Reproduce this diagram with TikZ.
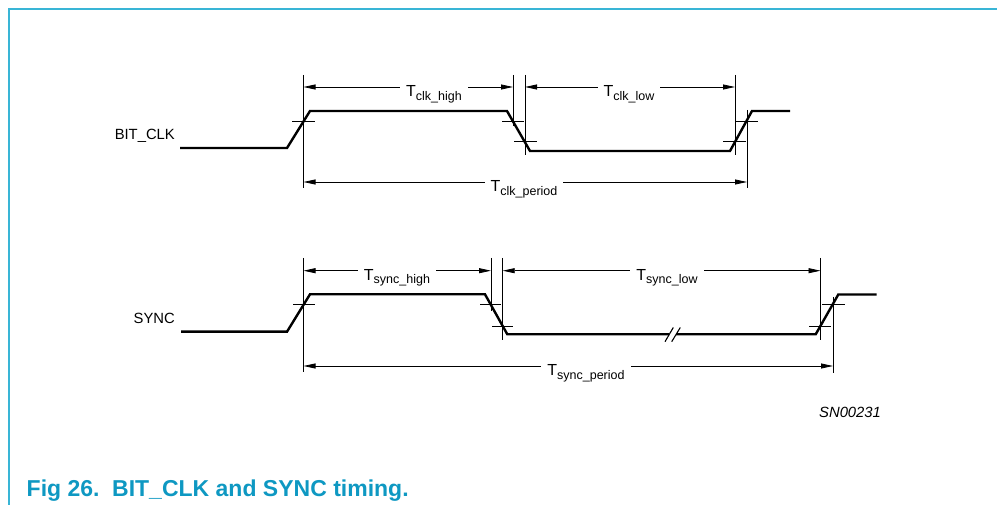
\documentclass[tikz,border=0pt]{standalone}
\usepackage{fontspec}
\setmainfont{Liberation Sans}
\usetikzlibrary{arrows.meta}
\definecolor{framecyan}{RGB}{57,181,214}
\definecolor{captionteal}{RGB}{14,152,194}
\newcommand{\tlab}[1]{T\raisebox{-3.3pt}{\fontsize{12.5}{14}\selectfont #1}}

\begin{document}
\begin{tikzpicture}[x=1pt, y=-1pt,
    sig/.style={line width=2.4pt, line join=miter},
    ext/.style={line width=0.8pt},
    tickline/.style={line width=0.8pt},
    dim/.style={line width=0.8pt, {Triangle[length=12pt,width=5pt]}-{Triangle[length=12pt,width=5pt]}},
    dimlabel/.style={fill=white, inner xsep=6pt, inner ysep=1pt, anchor=base, font=\fontsize{16}{18}\selectfont},
    siglabel/.style={anchor=base east, inner sep=0pt, font=\fontsize{14.8}{17}\selectfont}]
  \useasboundingbox (0,0) rectangle (997,505);
  % frame
  \draw[framecyan, line width=2pt] (8.5,505) -- (8.5,9.5) -- (997,9.5);

  % BIT_CLK
  \node[siglabel] (clkname) at (175,139.3) {BIT\_CLK};
  \draw[sig] (180,148) -- (287,148) -- (310,111) -- (507,111) -- (530,151)
    -- (730,151) -- (752,111) -- (790,111);
  \draw[tickline] (292,121) -- (315,121);
  \draw[tickline] (502,121) -- (524,121);
  \draw[tickline] (514,141.7) -- (537,141.7);
  \draw[tickline] (723,141.7) -- (746,141.7);
  \draw[tickline] (736,121) -- (758,121);
  \draw[ext] (303.5,75) -- (303.5,188);
  \draw[ext] (513,75) -- (513,126);
  \draw[ext] (525,75) -- (525,155);
  \draw[ext] (735,75) -- (735,155);
  \draw[ext] (747,110) -- (747,188);
  \coordinate (hiA) at (303.5,87);
  \coordinate (hiB) at (513,87);
  \coordinate (loA) at (525,87);
  \coordinate (loB) at (735,87);
  \coordinate (perA) at (303.5,182);
  \coordinate (perB) at (747,182);
  \draw[dim] (hiA) -- (hiB);
  \draw[dim] (loA) -- (loB);
  \draw[dim] (perA) -- (perB);
  \node[dimlabel] (clkhigh) at (434,97) {\tlab{clk\_high}};
  \node[dimlabel] (clklow) at (629,97) {\tlab{clk\_low}};
  \node[dimlabel] (clkper) at (524,192) {\tlab{clk\_period}};

  % SYNC
  \node[siglabel] (syncname) at (175,323.5) {SYNC};
  \draw[sig] (181,331.7) -- (287,331.7) -- (310,294.3) -- (485,294.3)
    -- (507.3,334.3) -- (669,334.3);
  \draw[sig] (676,334.3) -- (815.7,334.3) -- (838.3,294.5) -- (876.7,294.5);
  \draw[line width=1.1pt] (665,341.7) -- (673.3,327.5);
  \draw[line width=1.1pt] (671.7,341.7) -- (680.3,327.5);
  \draw[tickline] (293,304.3) -- (315,304.3);
  \draw[tickline] (480,304.3) -- (501,304.3);
  \draw[tickline] (492,326) -- (513,326);
  \draw[tickline] (809,326) -- (831,326);
  \draw[tickline] (822,304.3) -- (845,304.3);
  \draw[ext] (303.5,258) -- (303.5,372);
  \draw[ext] (491,258) -- (491,311);
  \draw[ext] (502.7,258) -- (502.7,340);
  \draw[ext] (820.5,258) -- (820.5,340);
  \draw[ext] (833,297) -- (833,373);
  \coordinate (shiA) at (303.5,270.7);
  \coordinate (shiB) at (491,270.7);
  \coordinate (sloA) at (502.7,270.7);
  \coordinate (sloB) at (820.5,270.7);
  \coordinate (sperA) at (303.5,366);
  \coordinate (sperB) at (833,366);
  \draw[dim] (shiA) -- (shiB);
  \draw[dim] (sloA) -- (sloB);
  \draw[dim] (sperA) -- (sperB);
  \node[dimlabel] (synchigh) at (397,280.7) {\tlab{sync\_high}};
  \node[dimlabel] (synclow) at (667,280.7) {\tlab{sync\_low}};
  \node[dimlabel] (syncper) at (586,376) {\tlab{sync\_period}};

  \node[anchor=base west, inner sep=0pt, font=\fontsize{14.8}{17}\selectfont\itshape] (drawno) at (819,417.3) {SN00231};
  \node[anchor=base west, inner sep=0pt, text=captionteal, font=\fontsize{23}{27}\selectfont\bfseries] (caption) at (26.5,496) {Fig 26.\hspace{0.55em}BIT\_CLK and SYNC timing.};
\end{tikzpicture}
\end{document}
